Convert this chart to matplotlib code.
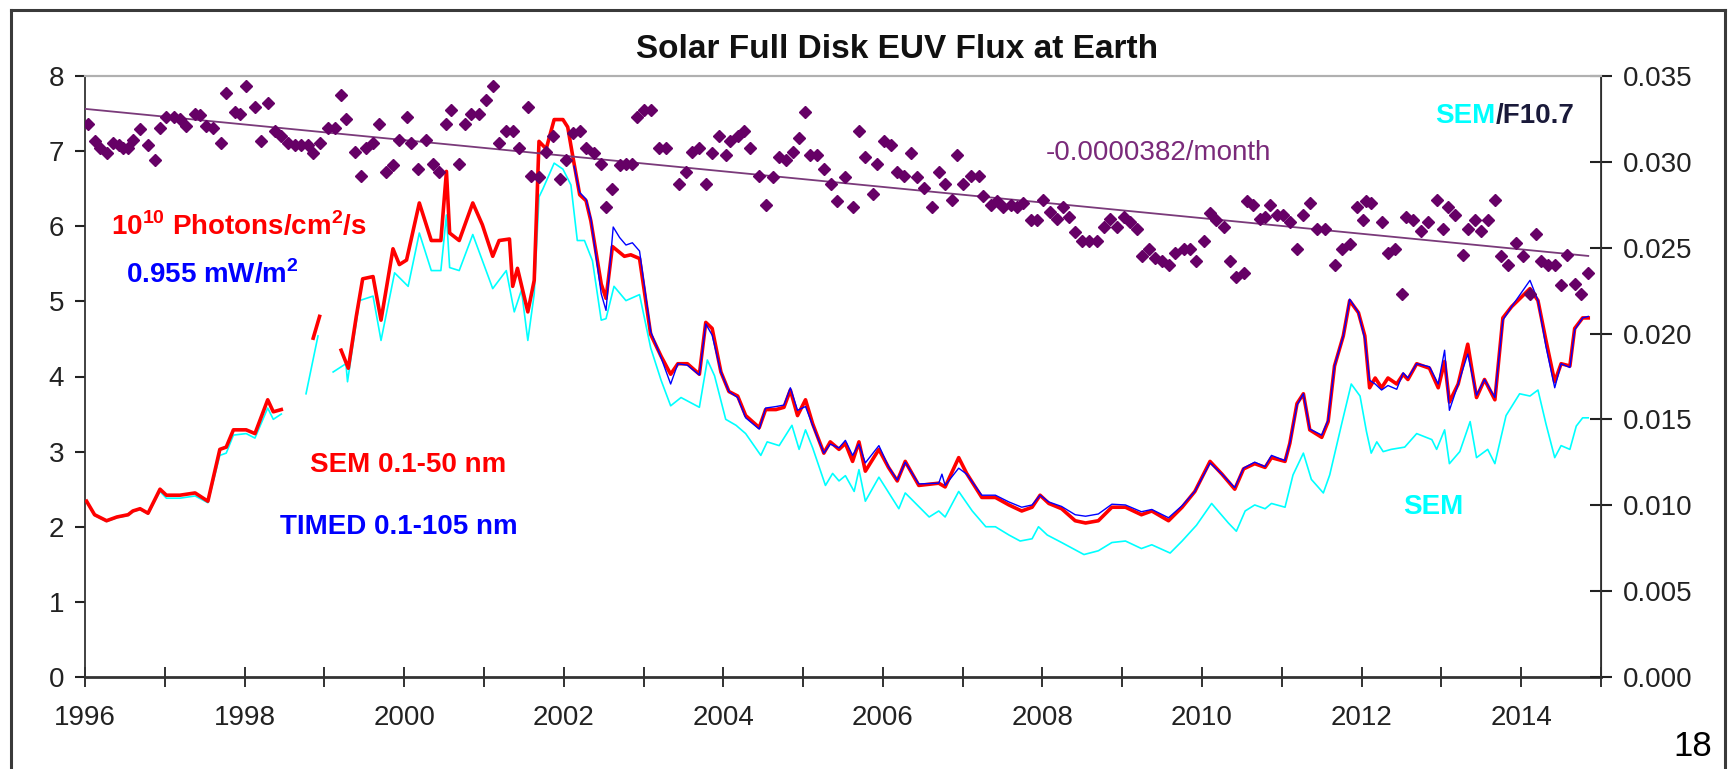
import numpy as np
import matplotlib
matplotlib.use('Agg')
import matplotlib.pyplot as plt
from matplotlib.lines import Line2D
from matplotlib.ticker import FormatStrFormatter

plt.rcParams['font.family'] = ['Liberation Sans', 'DejaVu Sans']
plt.rcParams['mathtext.fontset'] = 'custom'
plt.rcParams['mathtext.rm'] = 'Liberation Sans'
plt.rcParams['mathtext.bf'] = 'Liberation Sans:bold'

nan = np.nan

# SEM 0.1-50 nm (red), left axis
sem_year = [1996.02, 1996.12, 1996.27, 1996.40, 1996.54, 1996.60, 1996.69, 1996.79, 1996.94, 1997.02,
            1997.19, 1997.38, 1997.54, 1997.69, 1997.77, 1997.86, 1998.02, 1998.13, 1998.29, 1998.36,
            1998.46, nan, 1998.86, 1998.94, nan, 1999.21, 1999.30, 1999.40, 1999.48, 1999.61,
            1999.71, 1999.86, 1999.94, 2000.03, 2000.19, 2000.34, 2000.46, 2000.53, 2000.57, 2000.69,
            2000.86, 2000.98, 2001.11, 2001.19, 2001.32, 2001.36, 2001.42, 2001.55, 2001.63, 2001.69,
            2001.78, 2001.88, 2001.99, 2002.05, 2002.11, 2002.20, 2002.28, 2002.34, 2002.47, 2002.53,
            2002.61, 2002.76, 2002.84, 2002.95, 2003.09, 2003.22, 2003.34, 2003.43, 2003.55, 2003.70,
            2003.78, 2003.86, 2003.97, 2004.07, 2004.18, 2004.28, 2004.45, 2004.53, 2004.66, 2004.76,
            2004.84, 2004.93, 2005.03, 2005.12, 2005.26, 2005.34, 2005.45, 2005.53, 2005.62, 2005.70,
            2005.78, 2005.95, 2006.07, 2006.18, 2006.28, 2006.45, 2006.70, 2006.78, 2006.95, 2007.05,
            2007.24, 2007.41, 2007.58, 2007.74, 2007.87, 2007.97, 2008.08, 2008.24, 2008.41, 2008.54,
            2008.70, 2008.87, 2009.04, 2009.24, 2009.37, 2009.58, 2009.75, 2009.91, 2010.10, 2010.25,
            2010.41, 2010.52, 2010.66, 2010.79, 2010.87, 2011.04, 2011.10, 2011.19, 2011.27, 2011.35,
            2011.50, 2011.58, 2011.66, 2011.77, 2011.85, 2011.96, 2012.04, 2012.10, 2012.17, 2012.25,
            2012.33, 2012.44, 2012.52, 2012.58, 2012.69, 2012.85, 2012.96, 2013.04, 2013.10, 2013.21,
            2013.33, 2013.44, 2013.54, 2013.67, 2013.77, 2013.88, 2014.11, 2014.21, 2014.31, 2014.42,
            2014.50, 2014.61, 2014.67, 2014.77, 2014.84]
sem_flux = [2.34, 2.16, 2.08, 2.13, 2.16, 2.21, 2.24, 2.18, 2.50, 2.42,
            2.42, 2.45, 2.34, 3.03, 3.06, 3.29, 3.29, 3.24, 3.69, 3.53,
            3.56, nan, 4.51, 4.80, nan, 4.35, 4.11, 4.80, 5.30, 5.33,
            4.75, 5.70, 5.49, 5.55, 6.31, 5.81, 5.81, 6.73, 5.91, 5.81,
            6.31, 6.02, 5.60, 5.81, 5.83, 5.20, 5.44, 4.86, 5.28, 7.13,
            7.03, 7.42, 7.42, 7.32, 6.95, 6.42, 6.34, 6.07, 5.23, 5.04,
            5.73, 5.60, 5.62, 5.57, 4.56, 4.27, 4.03, 4.17, 4.17, 4.03,
            4.72, 4.64, 4.06, 3.80, 3.74, 3.48, 3.32, 3.56, 3.56, 3.59,
            3.82, 3.48, 3.69, 3.37, 2.98, 3.13, 3.03, 3.11, 2.87, 3.13,
            2.74, 3.03, 2.79, 2.61, 2.87, 2.55, 2.58, 2.53, 2.92, 2.71,
            2.39, 2.39, 2.29, 2.21, 2.26, 2.42, 2.31, 2.24, 2.08, 2.05,
            2.08, 2.26, 2.26, 2.16, 2.21, 2.08, 2.26, 2.47, 2.87, 2.70,
            2.50, 2.77, 2.84, 2.79, 2.92, 2.87, 3.11, 3.64, 3.77, 3.29,
            3.19, 3.40, 4.14, 4.54, 5.01, 4.85, 4.54, 3.85, 3.98, 3.85,
            3.98, 3.90, 4.03, 3.96, 4.17, 4.11, 3.85, 4.20, 3.66, 3.90,
            4.43, 3.72, 3.96, 3.69, 4.78, 4.93, 5.17, 5.01, 4.48, 3.93,
            4.17, 4.14, 4.64, 4.78, 4.78]

# TIMED 0.1-105 nm (blue), left axis
timed_year = [2002.13, 2002.20, 2002.28, 2002.34, 2002.47, 2002.53, 2002.62, 2002.70, 2002.78, 2002.86,
              2002.95, 2003.09, 2003.22, 2003.34, 2003.43, 2003.55, 2003.70, 2003.78, 2003.86, 2003.97,
              2004.07, 2004.18, 2004.28, 2004.45, 2004.53, 2004.66, 2004.76, 2004.84, 2004.93, 2005.03,
              2005.12, 2005.26, 2005.34, 2005.45, 2005.53, 2005.62, 2005.70, 2005.78, 2005.95, 2006.07,
              2006.18, 2006.28, 2006.45, 2006.70, 2006.74, 2006.78, 2006.95, 2007.05, 2007.24, 2007.41,
              2007.58, 2007.74, 2007.87, 2007.97, 2008.08, 2008.24, 2008.41, 2008.54, 2008.70, 2008.87,
              2009.04, 2009.24, 2009.37, 2009.58, 2009.75, 2009.91, 2010.10, 2010.25, 2010.41, 2010.52,
              2010.66, 2010.79, 2010.87, 2011.04, 2011.10, 2011.19, 2011.27, 2011.35, 2011.50, 2011.58,
              2011.66, 2011.77, 2011.85, 2011.96, 2012.04, 2012.10, 2012.17, 2012.25, 2012.33, 2012.44,
              2012.52, 2012.58, 2012.69, 2012.85, 2012.96, 2013.04, 2013.10, 2013.21, 2013.33, 2013.44,
              2013.54, 2013.67, 2013.77, 2013.88, 2014.11, 2014.21, 2014.31, 2014.42, 2014.50, 2014.61,
              2014.67, 2014.77, 2014.84]
timed_flux = [6.80, 6.45, 6.36, 6.10, 5.10, 4.88, 5.99, 5.85, 5.75, 5.78,
              5.67, 4.60, 4.25, 3.90, 4.17, 4.15, 4.02, 4.70, 4.55, 4.06,
              3.80, 3.72, 3.45, 3.30, 3.58, 3.60, 3.62, 3.85, 3.55, 3.60,
              3.35, 2.98, 3.10, 3.05, 3.15, 2.95, 3.10, 2.85, 3.08, 2.80,
              2.62, 2.86, 2.57, 2.58, 2.70, 2.55, 2.78, 2.70, 2.42, 2.42,
              2.33, 2.26, 2.29, 2.42, 2.33, 2.27, 2.16, 2.14, 2.17, 2.30,
              2.29, 2.20, 2.23, 2.12, 2.28, 2.47, 2.85, 2.70, 2.52, 2.78,
              2.86, 2.80, 2.95, 2.88, 3.11, 3.62, 3.77, 3.30, 3.22, 3.42,
              4.14, 4.54, 5.03, 4.85, 4.50, 3.95, 3.90, 3.82, 3.88, 3.83,
              4.05, 3.98, 4.17, 4.13, 3.90, 4.35, 3.55, 3.90, 4.30, 3.75,
              3.96, 3.72, 4.75, 4.93, 5.28, 5.01, 4.40, 3.85, 4.17, 4.12,
              4.62, 4.78, 4.80]

# SEM (cyan), left axis
cyan_year = [1996.02, 1996.12, 1996.27, 1996.40, 1996.54, 1996.60, 1996.69, 1996.79, 1996.94, 1997.02,
             1997.19, 1997.38, 1997.54, 1997.69, 1997.77, 1997.86, 1998.02, 1998.13, 1998.29, 1998.36,
             1998.46, nan, 1998.77, 1998.92, nan, 1999.11, 1999.27, 1999.29, 1999.44, 1999.61,
             1999.71, 1999.88, 2000.05, 2000.19, 2000.34, 2000.46, 2000.53, 2000.57, 2000.69, 2000.86,
             2001.11, 2001.28, 2001.38, 2001.47, 2001.55, 2001.63, 2001.69, 2001.74, 2001.88, 2001.99,
             2002.09, 2002.17, 2002.26, 2002.36, 2002.47, 2002.53, 2002.63, 2002.78, 2002.95, 2003.09,
             2003.22, 2003.34, 2003.47, 2003.70, 2003.80, 2003.89, 2004.03, 2004.16, 2004.28, 2004.47,
             2004.55, 2004.70, 2004.86, 2004.95, 2005.03, 2005.12, 2005.28, 2005.37, 2005.45, 2005.53,
             2005.64, 2005.70, 2005.78, 2005.95, 2006.20, 2006.28, 2006.58, 2006.70, 2006.78, 2006.95,
             2007.12, 2007.29, 2007.41, 2007.58, 2007.72, 2007.87, 2007.95, 2008.06, 2008.24, 2008.52,
             2008.70, 2008.87, 2009.04, 2009.24, 2009.37, 2009.60, 2009.75, 2009.93, 2010.12, 2010.33,
             2010.43, 2010.54, 2010.66, 2010.79, 2010.87, 2011.04, 2011.14, 2011.27, 2011.37, 2011.52,
             2011.60, 2011.75, 2011.87, 2011.98, 2012.06, 2012.12, 2012.19, 2012.27, 2012.37, 2012.54,
             2012.69, 2012.88, 2012.94, 2013.04, 2013.10, 2013.23, 2013.36, 2013.44, 2013.58, 2013.67,
             2013.81, 2013.98, 2014.11, 2014.21, 2014.31, 2014.42, 2014.50, 2014.61, 2014.69, 2014.77,
             2014.84]
cyan_flux = [2.33, 2.15, 2.07, 2.12, 2.15, 2.20, 2.23, 2.17, 2.47, 2.38,
             2.38, 2.41, 2.32, 2.95, 2.98, 3.22, 3.24, 3.18, 3.58, 3.43,
             3.50, nan, 3.77, 4.54, nan, 4.06, 4.17, 3.93, 5.01, 5.07,
             4.48, 5.38, 5.20, 5.91, 5.41, 5.41, 6.15, 5.45, 5.41, 5.89,
             5.17, 5.41, 4.86, 5.15, 4.48, 5.10, 6.39, 6.50, 6.84, 6.76,
             6.55, 5.81, 5.81, 5.54, 4.75, 4.77, 5.20, 5.01, 5.09, 4.38,
             3.95, 3.61, 3.72, 3.59, 4.22, 4.01, 3.43, 3.35, 3.24, 2.95,
             3.13, 3.08, 3.35, 3.03, 3.29, 3.05, 2.55, 2.71, 2.61, 2.68,
             2.47, 2.76, 2.34, 2.66, 2.24, 2.45, 2.13, 2.21, 2.13, 2.47,
             2.21, 2.00, 2.00, 1.89, 1.81, 1.84, 2.00, 1.89, 1.79, 1.63,
             1.68, 1.79, 1.81, 1.71, 1.76, 1.65, 1.81, 2.02, 2.31, 2.05,
             1.94, 2.21, 2.29, 2.24, 2.31, 2.26, 2.69, 2.98, 2.63, 2.45,
             2.69, 3.37, 3.90, 3.74, 3.27, 2.98, 3.13, 3.00, 3.03, 3.06,
             3.24, 3.16, 3.03, 3.29, 2.84, 3.00, 3.40, 2.92, 3.03, 2.84,
             3.48, 3.77, 3.74, 3.82, 3.37, 2.92, 3.08, 3.03, 3.34, 3.45,
             3.45]

# SEM/F10.7 ratio (purple diamonds), right axis
ratio_year = [1996.04, 1996.12, 1996.19, 1996.27, 1996.35, 1996.42, 1996.48, 1996.54, 1996.60, 1996.69,
              1996.79, 1996.88, 1996.94, 1997.02, 1997.11, 1997.19, 1997.27, 1997.38, 1997.44, 1997.52,
              1997.61, 1997.71, 1997.77, 1997.88, 1997.94, 1998.02, 1998.13, 1998.21, 1998.29, 1998.38,
              1998.46, 1998.54, 1998.63, 1998.71, 1998.79, 1998.86, 1998.94, 1999.04, 1999.13, 1999.21,
              1999.27, 1999.38, 1999.46, 1999.52, 1999.61, 1999.69, 1999.77, 1999.86, 1999.94, 2000.03,
              2000.09, 2000.17, 2000.28, 2000.36, 2000.44, 2000.53, 2000.59, 2000.69, 2000.76, 2000.84,
              2000.94, 2001.03, 2001.11, 2001.19, 2001.28, 2001.36, 2001.44, 2001.55, 2001.59, 2001.69,
              2001.78, 2001.86, 2001.95, 2002.03, 2002.11, 2002.20, 2002.28, 2002.38, 2002.47, 2002.53,
              2002.61, 2002.70, 2002.78, 2002.86, 2002.92, 2003.01, 2003.09, 2003.20, 2003.28, 2003.45,
              2003.53, 2003.61, 2003.70, 2003.78, 2003.86, 2003.95, 2004.03, 2004.09, 2004.18, 2004.26,
              2004.34, 2004.45, 2004.53, 2004.62, 2004.70, 2004.78, 2004.87, 2004.95, 2005.03, 2005.09,
              2005.18, 2005.26, 2005.35, 2005.43, 2005.53, 2005.62, 2005.70, 2005.78, 2005.87, 2005.93,
              2006.01, 2006.10, 2006.18, 2006.26, 2006.35, 2006.43, 2006.51, 2006.62, 2006.70, 2006.78,
              2006.87, 2006.93, 2007.01, 2007.10, 2007.20, 2007.26, 2007.35, 2007.43, 2007.51, 2007.60,
              2007.68, 2007.76, 2007.85, 2007.93, 2008.01, 2008.10, 2008.18, 2008.26, 2008.33, 2008.41,
              2008.50, 2008.58, 2008.68, 2008.77, 2008.85, 2008.93, 2009.02, 2009.10, 2009.18, 2009.25,
              2009.33, 2009.41, 2009.50, 2009.58, 2009.66, 2009.77, 2009.85, 2009.93, 2010.02, 2010.10,
              2010.18, 2010.27, 2010.35, 2010.43, 2010.52, 2010.56, 2010.64, 2010.73, 2010.79, 2010.85,
              2010.94, 2011.02, 2011.10, 2011.19, 2011.27, 2011.35, 2011.44, 2011.54, 2011.66, 2011.75,
              2011.85, 2011.94, 2012.02, 2012.06, 2012.12, 2012.25, 2012.33, 2012.42, 2012.50, 2012.56,
              2012.65, 2012.75, 2012.83, 2012.94, 2013.02, 2013.08, 2013.17, 2013.27, 2013.33, 2013.42,
              2013.50, 2013.58, 2013.67, 2013.75, 2013.83, 2013.94, 2014.02, 2014.11, 2014.19, 2014.25,
              2014.34, 2014.42, 2014.50, 2014.58, 2014.67, 2014.75, 2014.84]
ratio_val = [0.0322, 0.0312, 0.0308, 0.0305, 0.0311, 0.0310, 0.0308, 0.0308, 0.0313, 0.0319,
             0.0310, 0.0301, 0.0320, 0.0326, 0.0326, 0.0325, 0.0321, 0.0328, 0.0327, 0.0321,
             0.0320, 0.0311, 0.0340, 0.0329, 0.0328, 0.0344, 0.0332, 0.0312, 0.0334, 0.0318,
             0.0315, 0.0311, 0.0310, 0.0310, 0.0310, 0.0305, 0.0311, 0.0320, 0.0320, 0.0339,
             0.0325, 0.0306, 0.0292, 0.0308, 0.0311, 0.0322, 0.0294, 0.0298, 0.0313, 0.0326,
             0.0311, 0.0296, 0.0313, 0.0299, 0.0294, 0.0322, 0.0330, 0.0299, 0.0322, 0.0328,
             0.0328, 0.0336, 0.0344, 0.0311, 0.0318, 0.0318, 0.0308, 0.0332, 0.0292, 0.0291,
             0.0306, 0.0315, 0.0290, 0.0301, 0.0317, 0.0318, 0.0308, 0.0305, 0.0299, 0.0274,
             0.0284, 0.0298, 0.0299, 0.0299, 0.0326, 0.0330, 0.0330, 0.0308, 0.0308, 0.0287,
             0.0294, 0.0306, 0.0308, 0.0287, 0.0305, 0.0315, 0.0304, 0.0312, 0.0315, 0.0318,
             0.0308, 0.0292, 0.0275, 0.0291, 0.0303, 0.0301, 0.0306, 0.0314, 0.0329, 0.0304,
             0.0304, 0.0296, 0.0287, 0.0277, 0.0291, 0.0274, 0.0318, 0.0303, 0.0281, 0.0299,
             0.0312, 0.0310, 0.0294, 0.0292, 0.0305, 0.0291, 0.0285, 0.0274, 0.0294, 0.0287,
             0.0278, 0.0304, 0.0287, 0.0292, 0.0292, 0.0280, 0.0275, 0.0277, 0.0274, 0.0275,
             0.0274, 0.0276, 0.0266, 0.0266, 0.0278, 0.0271, 0.0267, 0.0274, 0.0268, 0.0259,
             0.0254, 0.0254, 0.0254, 0.0262, 0.0267, 0.0262, 0.0268, 0.0265, 0.0261, 0.0245,
             0.0249, 0.0244, 0.0242, 0.0240, 0.0247, 0.0249, 0.0249, 0.0242, 0.0254, 0.0270,
             0.0266, 0.0262, 0.0242, 0.0233, 0.0235, 0.0277, 0.0275, 0.0267, 0.0268, 0.0275,
             0.0269, 0.0269, 0.0265, 0.0249, 0.0269, 0.0276, 0.0261, 0.0261, 0.0240, 0.0249,
             0.0252, 0.0274, 0.0266, 0.0277, 0.0276, 0.0265, 0.0247, 0.0249, 0.0223, 0.0268,
             0.0266, 0.0260, 0.0265, 0.0278, 0.0261, 0.0274, 0.0269, 0.0246, 0.0261, 0.0266,
             0.0260, 0.0266, 0.0278, 0.0245, 0.0240, 0.0253, 0.0245, 0.0223, 0.0258, 0.0242,
             0.0240, 0.0240, 0.0228, 0.0246, 0.0229, 0.0223, 0.0235]

trend_label = '-0.0000382/month'

fig = plt.figure(figsize=(17.31, 7.69), dpi=100)
ax = fig.add_axes([85 / 1731, 92 / 769, 1516 / 1731, 601 / 769])
ax2 = ax.twinx()

ax.plot(cyan_year, cyan_flux, color='#00ffff', lw=1.2, zorder=2)
ax.plot(sem_year, sem_flux, color='#ff0000', lw=2.6, zorder=3)
ax.plot(timed_year, timed_flux, color='#0000ff', lw=1.0, zorder=4)

# linear trend of the ratio (per month)
coef = np.polyfit(ratio_year, ratio_val, 1)
tx = np.array([1996.0, ratio_year[-1]])
ax2.plot(tx, np.polyval(coef, tx), color='#7a3a7a', lw=1.3, zorder=2)
ax2.plot(ratio_year, ratio_val, ls='none', marker='D', ms=6, color='#660066', zorder=3)

ax.set_xlim(1996, 2015)
ax.set_ylim(0, 8)
ax2.set_ylim(0, 0.035)

years = list(range(1996, 2016))
ax.set_xticks(years)
ax.set_xticklabels([str(y) if (y % 2 == 0 and y < 2015) else '' for y in years])
ax.set_yticks(range(0, 9))
ax2.set_yticks(np.arange(0, 0.0351, 0.005))
ax2.yaxis.set_major_formatter(FormatStrFormatter('%.3f'))

ax.tick_params(axis='x', direction='inout', length=14, width=1.3, labelsize=20, pad=13, colors='#222222')
ax.tick_params(axis='y', direction='out', length=7, width=1.5, labelsize=20, pad=8, colors='#222222')
ax2.tick_params(axis='y', direction='inout', length=16, width=1.5, labelsize=20, pad=8, colors='#222222')

for a in (ax, ax2):
    a.spines['top'].set_color('#b0b0b0')
    a.spines['top'].set_linewidth(1.5)
ax.spines['left'].set_color('#333333')
ax.spines['left'].set_linewidth(1.3)
ax.spines['bottom'].set_color('#333333')
ax.spines['bottom'].set_linewidth(2.0)
ax2.spines['right'].set_color('#333333')
ax2.spines['right'].set_linewidth(1.3)
ax2.spines['left'].set_visible(False)
ax2.spines['bottom'].set_visible(False)

# annotations
ax.text(1996.33, 6.0, r'10$^{\mathbf{10}}$ Photons/cm$^{\mathbf{2}}$/s', color='#ff0000',
        fontsize=20, fontweight='bold', va='center', ha='left')
ax.text(1996.52, 5.36, r'0.955 mW/m$^{\mathbf{2}}$', color='#0000ff',
        fontsize=20, fontweight='bold', va='center', ha='left')
ax.text(1998.82, 2.82, 'SEM 0.1-50 nm', color='#ff0000', fontsize=20, fontweight='bold',
        va='center', ha='left')
ax.text(1998.44, 2.0, 'TIMED 0.1-105 nm', color='#0000ff', fontsize=20, fontweight='bold',
        va='center', ha='left')
ax.text(2012.52, 2.26, 'SEM', color='#00ffff', fontsize=20, fontweight='bold',
        va='center', ha='left')
ax.text(2008.04, 6.97, trend_label, color='#7a2a7a', fontsize=20, va='center', ha='left')
t1 = ax.text(2012.92, 7.47, 'SEM', color='#00ffff', fontsize=20, fontweight='bold',
             va='center', ha='left')
ax.annotate('/F10.7', xy=(1, 0), xycoords=t1, color='#1a1a3a', fontsize=20,
            fontweight='bold', va='bottom', ha='left')

fig.text(897 / 1731, 1 - 50 / 769, 'Solar Full Disk EUV Flux at Earth', fontsize=24,
         fontweight='bold', ha='center', va='center', color='#111111')
fig.text(1693 / 1731, 1 - 747 / 769, '18', fontsize=25, ha='center', va='center')

# slide frame
fl, fr, ft = 11 / 1731, 1725 / 1731, 1 - 10 / 769
for xs, ys in (([fl, fl], [0, ft]), ([fl, fr], [ft, ft]), ([fr, fr], [ft, 0])):
    fig.add_artist(Line2D(xs, ys, transform=fig.transFigure, color='#3a3a3a', lw=2.2))

fig.savefig('out.png', dpi=100)
